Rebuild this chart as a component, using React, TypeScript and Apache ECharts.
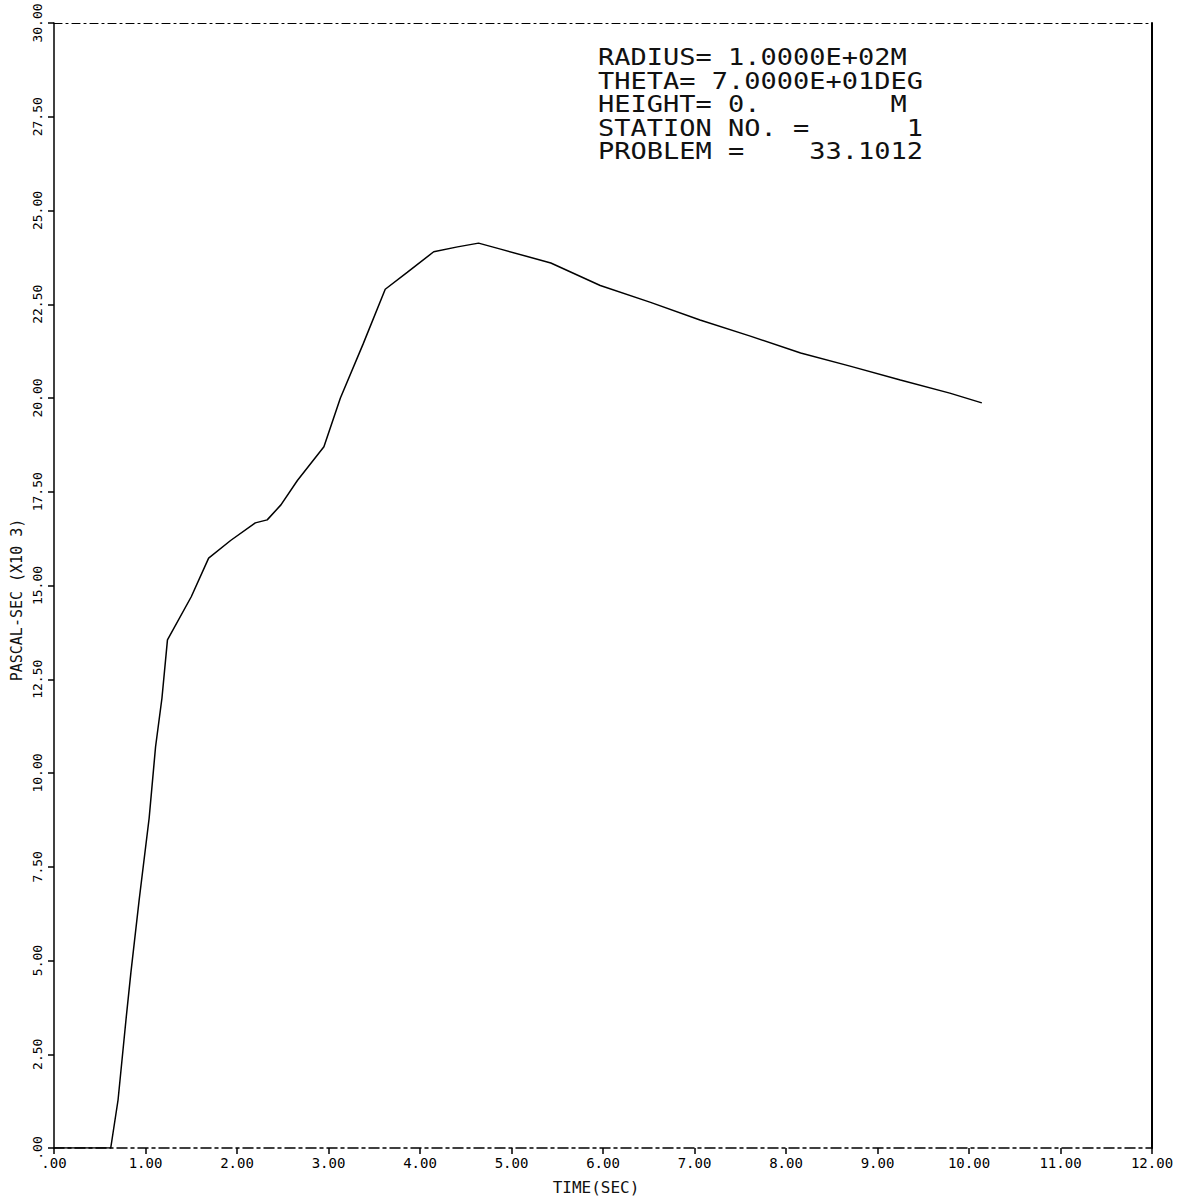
import React, { useEffect, useRef } from "react";
import * as echarts from "echarts";

const timeSec = [0, 0.62, 0.70, 0.79, 0.84, 0.93, 1.04, 1.11, 1.18, 1.24, 1.50, 1.69, 1.93, 2.20, 2.33, 2.48, 2.66, 2.95, 3.13, 3.38, 3.62, 3.86, 4.15, 4.41, 4.64, 4.88, 5.43, 5.97, 6.52, 7.06, 7.61, 8.16, 8.70, 9.25, 9.79, 10.14];
const impulse = [0, 0, 1.28, 3.5, 4.67, 6.6, 8.8, 10.7, 12.0, 13.55, 14.7, 15.73, 16.2, 16.67, 16.75, 17.15, 17.8, 18.7, 20.0, 21.45, 22.9, 23.35, 23.9, 24.03, 24.13, 23.97, 23.6, 23.0, 22.55, 22.08, 21.65, 21.2, 20.85, 20.48, 20.13, 19.87];

const infoLines = [
  "RADIUS= 1.0000E+02M",
  "THETA= 7.0000E+01DEG",
  "HEIGHT= 0.        M",
  "STATION NO. =      1",
  "PROBLEM =    33.1012",
];
const xTitle = "TIME(SEC)";
const yTitle = "PASCAL-SEC (X10 3)";

const fmt = (v: number) => (Math.abs(v) < 1e-9 ? ".00" : v.toFixed(2));
const MONO = "DejaVu Sans Mono";

export default function App() {
  const ref = useRef<HTMLDivElement>(null);
  useEffect(() => {
    if (!ref.current) return;
    const chart = echarts.init(ref.current, null, { renderer: "svg" });
    const data = timeSec.map((t, i) => [t, impulse[i]]);
    chart.setOption({
      animation: false,
      backgroundColor: "#ffffff",
      grid: { left: 54, right: 26, top: 23, bottom: 51, containLabel: false },
      xAxis: [
        {
          type: "value",
          min: 0,
          max: 12,
          interval: 1,
          position: "bottom",
          axisLine: { show: true, onZero: false, lineStyle: { color: "#000", width: 1.5, type: [10, 4, 3, 4] } },
          axisTick: { show: true, inside: false, length: 6, lineStyle: { color: "#000", width: 1.5 } },
          axisLabel: { formatter: fmt, fontFamily: MONO, fontSize: 14, color: "#000", margin: 8 },
          splitLine: { show: false },
        },
        {
          type: "value",
          min: 0,
          max: 12,
          position: "top",
          axisLine: { show: true, onZero: false, lineStyle: { color: "#000", width: 1.2, type: [8, 4, 2, 4] } },
          axisTick: { show: false },
          axisLabel: { show: false },
          splitLine: { show: false },
        },
      ],
      yAxis: [
        {
          type: "value",
          min: 0,
          max: 30,
          interval: 2.5,
          position: "left",
          axisLine: { show: true, onZero: false, lineStyle: { color: "#000", width: 1.5 } },
          axisTick: { show: true, inside: false, length: 6, lineStyle: { color: "#000", width: 1.5 } },
          axisLabel: { formatter: fmt, fontFamily: MONO, fontSize: 13, color: "#000", rotate: 90, margin: 10 },
          splitLine: { show: false },
        },
        {
          type: "value",
          min: 0,
          max: 30,
          position: "right",
          axisLine: { show: true, onZero: false, lineStyle: { color: "#000", width: 2 } },
          axisTick: { show: false },
          axisLabel: { show: false },
          splitLine: { show: false },
        },
      ],
      series: [
        {
          type: "line",
          xAxisIndex: 0,
          yAxisIndex: 0,
          data,
          showSymbol: false,
          smooth: false,
          lineStyle: { color: "#000", width: 1.5 },
        },
      ],
      graphic: [
        ...infoLines.map((t, i) => ({
          type: "text",
          x: 598,
          y: 46 + i * 23.5,
          scaleX: 1.35,
          scaleY: 1.15,
          style: { text: t, fontFamily: MONO, fontSize: 20, fill: "#111", textVerticalAlign: "top" },
        })),
        {
          type: "text",
          x: 17,
          y: 600,
          rotation: Math.PI / 2,
          style: { text: yTitle, fontFamily: MONO, fontSize: 15, fill: "#111", textAlign: "center", textVerticalAlign: "middle" },
        },
        {
          type: "text",
          x: 596,
          y: 1187,
          style: { text: xTitle, fontFamily: MONO, fontSize: 16, fill: "#111", textAlign: "center", textVerticalAlign: "middle" },
        },
      ],
    });
    return () => chart.dispose();
  }, []);
  return (
    <div
      ref={ref}
      style={{ position: "fixed", left: 0, top: 0, width: 1178, height: 1199, background: "#fff" }}
    />
  );
}
